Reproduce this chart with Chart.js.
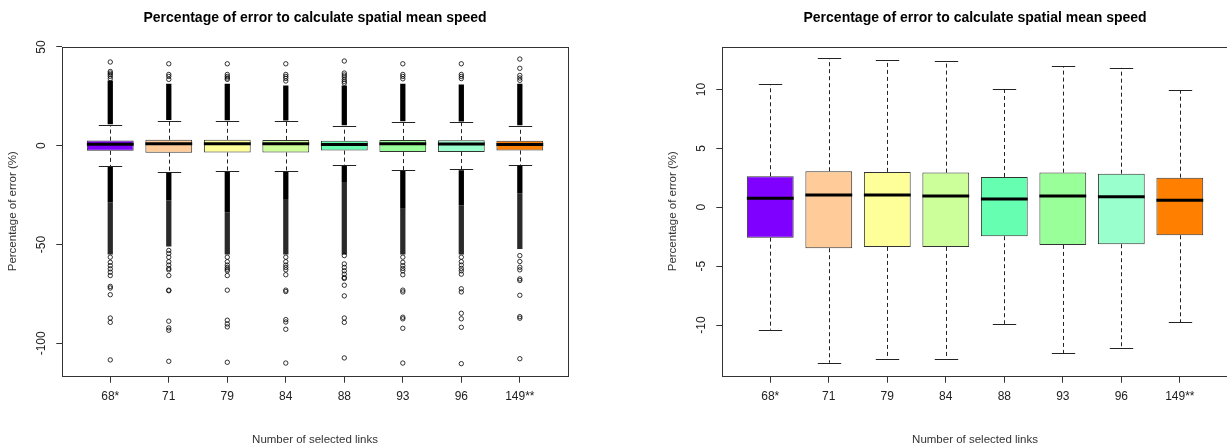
<html>
<head>
<style>
  body { margin: 0; width: 1227px; height: 448px; overflow: hidden; background: #fff; position: relative; }
  .panel { position: absolute; top: 0; width: 613px; height: 448px; }
</style>
</head>
<body>
<div class="panel" style="left:0px"><canvas id="leftChart" width="613" height="448"></canvas></div>
<div class="panel" style="left:660px"><canvas id="rightChart" width="613" height="448"></canvas></div>
<script src="https://cdn.jsdelivr.net/npm/chart.js@4/dist/chart.umd.min.js"></script>
<script>
// number of selected links
const categories = ["68*", "71", "79", "84", "88", "93", "96", "149**"];
const boxColors = ["#8000FF", "#FFCC99", "#FFFF99", "#CCFF99", "#66FFB2", "#99FF99", "#99FFCC", "#FF8000"];

// box statistics (percentage of error)
const whiskerHi = [10.44, 12.65, 12.48, 12.39, 10.00, 11.99, 11.83, 9.96];
const q3 = [2.63, 3.06, 3.00, 2.94, 2.57, 2.94, 2.85, 2.51];
const medians = [0.76, 1.04, 1.04, 0.96, 0.70, 0.96, 0.90, 0.59];
const q1 = [-2.58, -3.48, -3.37, -3.37, -2.46, -3.20, -3.14, -2.38];
const whiskerLo = [-10.39, -13.20, -12.90, -12.85, -9.90, -12.37, -11.98, -9.78];

// runs of outliers so dense they merge into a column
const denseHiTop = [33.0, 31.4, 31.4, 30.5, 30.5, 31.4, 31.0, 31.4];
const denseLoSolid = [-28.6, -27.7, -33.6, -26.9, -18.4, -31.9, -30.2, -24.0];
const denseLoEnd = [-55.0, -51.0, -55.0, -55.0, -55.0, -55.0, -55.0, -52.2];

// separate outliers
const outliers = [
  [42.4, 37.6, 36.8, 36.0, 35.1, 34.0, -56.4, -59.0, -60.7, -62.3, -64.0, -65.7, -71.2, -72.0, -75.4, -87.2, -89.4, -108.4],
  [41.5, 36.1, 35.1, 33.6, -53.0, -54.5, -56.4, -58.7, -60.4, -62.1, -62.8, -65.7, -73.1, -73.4, -88.8, -92.2, -93.4, -109.1],
  [41.5, 36.1, 35.1, 34.3, 33.6, -56.4, -58.7, -60.4, -61.6, -62.5, -63.3, -65.7, -73.1, -88.3, -90.2, -91.7, -109.6],
  [41.5, 36.1, 35.1, 34.1, 32.8, -56.4, -58.7, -60.4, -61.6, -62.8, -65.3, -73.1, -73.8, -88.0, -89.2, -92.9, -110.0],
  [42.9, 36.8, 35.8, 34.8, 33.6, 32.6, 31.7, -55.6, -59.8, -61.6, -63.3, -65.0, -66.7, -67.2, -70.6, -76.0, -87.2, -89.4, -107.4],
  [41.5, 36.1, 35.1, 33.9, -56.4, -59.0, -60.7, -62.1, -63.3, -65.3, -73.1, -74.0, -86.8, -87.6, -92.4, -110.0],
  [41.5, 36.1, 35.1, 34.0, -56.4, -58.7, -60.4, -62.1, -63.3, -65.0, -72.4, -74.0, -84.8, -87.6, -91.9, -110.3],
  [43.9, 39.2, 35.6, 34.3, 33.1, -55.6, -58.6, -61.5, -62.8, -67.4, -68.2, -75.7, -86.5, -87.3, -107.8]
];

const leftTicks = [-100, -50, 0, 50];
const rightTicks = [-10, -5, 0, 5, 10];

Chart.defaults.font.family = "'Liberation Sans', Arial, sans-serif";
Chart.defaults.font.size = 12;

// whiskers, caps, medians and frame in R boxplot style
const boxplotExtras = {
  id: "boxplotExtras",
  beforeDatasetsDraw(chart) {
    const ctx = chart.ctx;
    const xs = chart.scales.x, ys = chart.scales.y;
    const boxes = chart.getDatasetMeta(0).data;
    ctx.save();
    ctx.beginPath();
    ctx.rect(chart.chartArea.left, chart.chartArea.top, chart.chartArea.width, chart.chartArea.height);
    ctx.clip();
    ctx.strokeStyle = "#222";
    ctx.lineWidth = 1;
    categories.forEach((c, i) => {
      const x = Math.round(xs.getPixelForValue(i + 1)) + 0.5;
      const half = boxes[i].width / 4;
      ctx.setLineDash([4, 3]);
      ctx.beginPath();
      ctx.moveTo(x, ys.getPixelForValue(q3[i]));
      ctx.lineTo(x, ys.getPixelForValue(whiskerHi[i]));
      ctx.moveTo(x, ys.getPixelForValue(q1[i]));
      ctx.lineTo(x, ys.getPixelForValue(whiskerLo[i]));
      ctx.stroke();
      ctx.setLineDash([]);
      ctx.beginPath();
      const yh = Math.round(ys.getPixelForValue(whiskerHi[i])) + 0.5;
      const yl = Math.round(ys.getPixelForValue(whiskerLo[i])) + 0.5;
      ctx.moveTo(x - half, yh); ctx.lineTo(x + half, yh);
      ctx.moveTo(x - half, yl); ctx.lineTo(x + half, yl);
      ctx.stroke();
    });
    ctx.restore();
  },
  afterDatasetsDraw(chart) {
    const ctx = chart.ctx;
    const ys = chart.scales.y;
    const boxes = chart.getDatasetMeta(0).data;
    ctx.save();
    ctx.strokeStyle = "#000";
    ctx.lineWidth = 3;
    categories.forEach((c, i) => {
      const y = ys.getPixelForValue(medians[i]);
      ctx.beginPath();
      ctx.moveTo(boxes[i].x - boxes[i].width / 2, y);
      ctx.lineTo(boxes[i].x + boxes[i].width / 2, y);
      ctx.stroke();
    });
    const a = chart.chartArea;
    ctx.strokeStyle = "#333";
    ctx.lineWidth = 1;
    ctx.strokeRect(Math.round(a.left) + 0.5, Math.round(a.top) + 0.5, Math.round(a.width), Math.round(a.height));
    ctx.restore();
  }
};

function makeChart(id, yMin, yMax, yTicks, withOutliers, tickPad) {
  const datasets = [{
    type: "bar",
    data: categories.map((c, i) => ({ x: i + 1, y: [q1[i], q3[i]] })),
    backgroundColor: boxColors,
    borderColor: "#333",
    borderWidth: 1,
    borderSkipped: false,
    grouped: false,
    barPercentage: 0.8,
    categoryPercentage: 1.0,
    order: 2
  }];
  if (withOutliers) {
    datasets.push({
      type: "bar",
      data: categories.map((c, i) => ({ x: i + 1, y: [whiskerHi[i] + 0.4, denseHiTop[i]] })),
      backgroundColor: "#000",
      grouped: false, barPercentage: 0.09, categoryPercentage: 1.0, order: 1
    }, {
      type: "bar",
      data: categories.map((c, i) => ({ x: i + 1, y: [whiskerLo[i] - 0.4, denseLoSolid[i]] })),
      backgroundColor: "#000",
      grouped: false, barPercentage: 0.09, categoryPercentage: 1.0, order: 1
    }, {
      type: "bar",
      data: categories.map((c, i) => ({ x: i + 1, y: [denseLoSolid[i], denseLoEnd[i]] })),
      backgroundColor: "#2a2a2a",
      grouped: false, barPercentage: 0.09, categoryPercentage: 1.0, order: 1
    }, {
      type: "line",
      showLine: false,
      data: outliers.flatMap((vals, i) => vals.map(v => ({ x: i + 1, y: v }))),
      pointRadius: 2.2,
      pointBorderWidth: 0.8,
      pointBorderColor: "#000",
      pointBackgroundColor: "rgba(0,0,0,0)",
      order: 0
    });
  }
  return new Chart(id, {
    type: "bar",
    data: { datasets },
    plugins: [boxplotExtras],
    options: {
      responsive: false,
      animation: false,
      layout: { padding: { left: 0, right: 45.2, top: 0, bottom: 0 } },
      plugins: {
        legend: { display: false },
        tooltip: { enabled: false },
        title: {
          display: true,
          fullSize: false,
          text: "Percentage of error to calculate spatial mean speed",
          color: "#000",
          font: { size: 14, weight: "bold" },
          padding: { top: 9.9, bottom: 20.0 }
        }
      },
      scales: {
        x: {
          type: "linear",
          position: "bottom",
          min: 0.18,
          max: 8.82,
          offset: false,
          afterBuildTicks: axis => { axis.ticks = categories.map((c, i) => ({ value: i + 1 })); },
          afterFit: axis => { axis.height = 72.3; },
          grid: { offset: false, drawOnChartArea: false, drawTicks: true, tickLength: 7, color: "#333" },
          border: { display: false },
          ticks: {
            autoSkip: false, maxRotation: 0, padding: 6.8, color: "#222",
            callback: v => categories[Math.round(v) - 1]
          },
          title: { display: true, text: "Number of selected links", color: "#333", font: { size: 11.5 }, padding: { top: 0, bottom: 1.5 } }
        },
        y: {
          type: "linear",
          min: yMin,
          max: yMax,
          beginAtZero: false,
          afterBuildTicks: axis => { axis.ticks = yTicks.map(v => ({ value: v })); },
          afterFit: axis => { axis.width = 62.3; },
          grid: { drawOnChartArea: false, drawTicks: true, tickLength: 6, color: "#333" },
          border: { display: false },
          ticks: { autoSkip: false, minRotation: 90, maxRotation: 90, crossAlign: "center", padding: tickPad, color: "#222" },
          title: { display: true, text: "Percentage of error (%)", color: "#333", font: { size: 11.5 }, padding: { top: 6.1, bottom: 0 } }
        }
      }
    }
  });
}

makeChart("leftChart", -116.4, 50.15, leftTicks, true, 2.6);
makeChart("rightChart", -14.3, 13.63, rightTicks, false, 5.9);
</script>
</body>
</html>
